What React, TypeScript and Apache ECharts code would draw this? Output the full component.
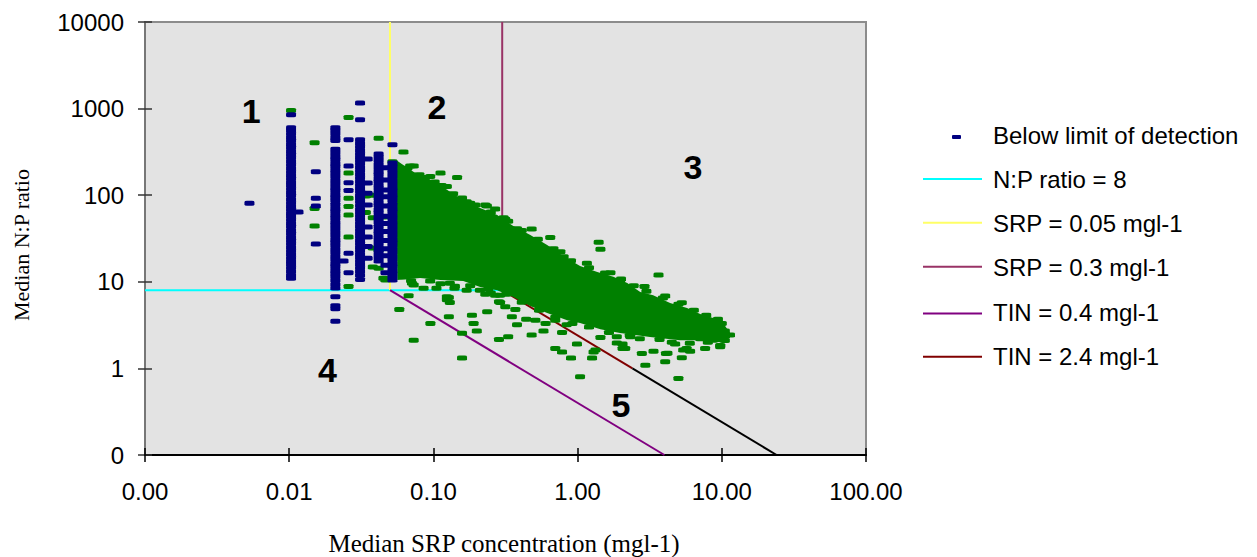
import React, { useEffect, useRef } from 'react';
import * as echarts from 'echarts';

// ---------- DATA ----------
// Axis tick values (log scales)
const xTickValues = [0.001, 0.01, 0.1, 1, 10, 100];
const yTickValues = [0.1, 1, 10, 100, 1000, 10000];

// Below-limit-of-detection samples: SRP columns and their N:P ratios
const bdlColumnSRP = [0.0103, 0.0209, 0.031, 0.0417, 0.0465, 0.052];
const bdlCol1 = [847, 600, 562, 513, 468, 427, 390, 355, 324, 296, 270, 246, 225, 205, 187, 171, 156, 142, 130, 119, 108, 99, 90, 82, 75, 68.5, 62.5, 57, 52, 47.5, 43.5, 39.5, 36, 33, 30, 27.5, 25, 22.9, 20.9, 19, 17.4, 15.9, 14.5, 13.2, 12, 11];
const bdlCol2 = [600, 562, 513, 468, 427, 340, 310, 283, 258, 236, 215, 196, 179, 163, 149, 136, 124, 113, 103, 94, 86, 78, 71, 65, 59, 54, 49, 45, 41, 37.5, 34, 31, 28.5, 26, 23.7, 21.6, 19.7, 18, 16.4, 15, 13.7, 12.5, 11.4, 10.4, 9.4, 8.5, 6.7, 5.3, 4.9, 3.5];
const bdlCol3 = [1158, 742, 436, 398, 363, 331, 302, 276, 252, 230, 210, 191, 174, 159, 145, 132, 121, 110, 100, 92, 84, 76, 69, 63, 58, 53, 48, 44, 40, 36.5, 33.3, 30.4, 27.7, 25.3, 23, 21, 19.2, 17.5, 16, 14.5, 13.2, 12, 10.6];
const bdlCol4 = [300, 274, 250, 228, 208, 190, 173, 158, 144, 131, 120, 109, 100, 91, 83, 76, 69, 63, 57.5, 52.5, 48, 43.5, 39.7, 36.2, 33, 30.1, 27.5, 25, 22.9, 20.9, 19, 17.4];
const bdlCol5 = [207, 150, 115, 96, 75, 57, 47, 38, 30, 24, 20, 15.5, 12.7];
const bdlCol6 = [382, 236, 215, 196, 179, 163, 149, 136, 124, 113, 103, 94, 86, 78, 71, 65, 59, 54, 49, 45, 41, 37.5, 34, 31, 28.5, 26, 23.7, 21.6, 19.7, 18, 16.4, 15, 13.7, 12.5, 11.4, 10.5];
const bdlColumns = [bdlCol1, bdlCol2, bdlCol3, bdlCol4, bdlCol5, bdlCol6];
const bdlExtraPoints = [
  [0.0053, 81], [0.0116, 64],
  [0.0153, 187], [0.0153, 92], [0.0153, 75], [0.0153, 27.4],
  [0.0238, 17.4], [0.0258, 436], [0.0258, 218], [0.0258, 139], [0.0258, 113], [0.0258, 21.3], [0.0258, 12.7],
  [0.035, 262], [0.035, 138], [0.035, 105], [0.035, 77], [0.035, 43], [0.035, 33], [0.035, 25.5], [0.035, 18.7],
];

// Above-detection samples: dense core envelope (SRP, N:P) ...
const cloudUpper = [[0.0553, 255], [0.059, 236], [0.0726, 186], [0.0953, 150], [0.125, 115], [0.161, 86], [0.211, 71], [0.277, 59], [0.358, 44], [0.47, 34.8], [0.615, 26.6], [0.794, 19.9], [1.04, 15.2], [1.37, 13.0], [1.77, 11.4], [2.21, 9.7], [2.72, 7.6], [3.34, 7.0], [4.38, 5.7], [5.74, 4.98], [7.08, 4.25], [8.71, 3.82], [10.2, 3.34], [11.4, 2.56]];
const cloudLower = [[11.4, 2.24], [9.75, 2.01], [7.08, 2.12], [5.14, 2.12], [3.18, 2.3], [1.97, 2.56], [1.44, 2.84], [1.04, 3.34], [0.847, 3.6], [0.615, 4.35], [0.47, 5.25], [0.358, 6.67], [0.277, 8.0], [0.211, 8.7], [0.161, 10.2], [0.112, 10.5], [0.081, 11.1], [0.0562, 10.5]];
// ... and the individual samples around it
const greenPoints = [
  [0.0103, 950], [0.015, 403], [0.015, 70], [0.015, 44],
  [0.0258, 789], [0.0258, 180], [0.0258, 92], [0.0258, 74], [0.0258, 59], [0.0258, 33], [0.0258, 8.8],
  [0.034, 98], [0.034, 63], [0.038, 100], [0.038, 55], [0.038, 24.5], [0.038, 14.8],
  [0.0417, 456], [0.0417, 23.3], [0.0417, 14.3], [0.045, 56], [0.045, 11], [0.0465, 10.5], [0.052, 244],
  [0.062, 315], [0.069, 217], [0.073, 218], [0.095, 164], [0.112, 181], [0.114, 129], [0.124, 126], [0.134, 100], [0.146, 160], [0.158, 93], [0.18, 81], [0.229, 77], [0.235, 75], [0.268, 69.5], [0.307, 55], [0.315, 52.8], [0.38, 41], [0.48, 40.7], [0.515, 30.4], [0.646, 32.4], [0.76, 22.3], [0.8, 19.5], [0.84, 15.6], [1.16, 16.4], [1.4, 28.6], [1.44, 23.8], [1.69, 12.7], [1.97, 10.0], [2.91, 8.8], [3.64, 12.0], [4.05, 6.85], [5.28, 5.73], [10.0, 3.31], [10.5, 2.7], [11.4, 2.43],
  [0.066, 205], [0.08, 172], [0.088, 160], [0.102, 142], [0.118, 125], [0.137, 104], [0.17, 84], [0.195, 77], [0.25, 64], [0.33, 50], [0.41, 39], [0.53, 31], [0.68, 24], [0.9, 17.5], [1.2, 14.5], [1.55, 12.6], [2.0, 10.8], [2.45, 9.0], [3.0, 7.8], [3.9, 6.5], [5.0, 5.5], [6.4, 4.7], [7.8, 4.1], [9.4, 3.7],
  [0.07, 10.3], [0.095, 10.2], [0.13, 9.6], [0.18, 9.0], [0.24, 8.2], [0.32, 7.2], [0.41, 5.8], [0.54, 4.7], [0.7, 3.9], [0.92, 3.3], [1.2, 3.0], [1.65, 2.6], [2.3, 2.4], [2.7, 2.2], [3.7, 2.15], [4.5, 2.0], [6.0, 1.95], [8.0, 2.0], [10.5, 2.1],
  [0.058, 4.8], [0.062, 15.6], [0.062, 12], [0.063, 11.4], [0.0673, 6.9], [0.071, 9.6], [0.073, 9.2], [0.073, 2.12], [0.0855, 8.4], [0.0953, 3.31], [0.105, 8.4], [0.112, 9.5], [0.124, 6.2], [0.124, 6.7], [0.128, 6.6], [0.13, 5.75], [0.128, 3.95], [0.14, 8.4], [0.141, 8.9], [0.158, 1.32], [0.158, 2.54], [0.17, 8.0], [0.185, 4.1], [0.19, 3.31], [0.2, 2.7], [0.21, 8.0], [0.229, 7.2], [0.236, 4.5], [0.25, 7.4], [0.268, 7.0], [0.285, 5.9], [0.285, 2.15], [0.29, 5.75], [0.29, 7.0], [0.315, 5.15], [0.33, 2.32], [0.35, 3.95], [0.37, 4.8], [0.38, 3.2], [0.44, 3.7], [0.48, 2.43], [0.51, 3.6], [0.58, 2.7], [0.6, 3.3], [0.7, 3.6], [0.7, 1.7], [0.78, 2.6], [0.78, 1.55], [0.84, 3.2], [0.9, 1.32], [0.99, 1.91], [1.04, 0.8], [1.26, 1.32], [1.29, 1.55], [1.33, 1.63], [1.44, 2.28], [1.87, 2.32], [1.87, 1.96], [2.05, 1.91], [2.05, 1.7], [2.14, 1.7], [2.32, 2.32], [2.79, 1.49], [2.95, 1.09], [3.36, 1.58], [4.05, 1.19], [4.1, 1.49], [4.2, 1.5], [4.75, 1.91], [5.0, 0.766], [5.28, 1.33], [5.4, 1.63], [5.7, 1.7], [6.03, 1.58], [7.08, 2.2], [7.66, 1.7], [8.7, 2.12], [9.75, 1.84], [9.75, 1.78],
];

// Threshold lines (SRP, N:P)
const npRatioLine = [[0.001, 8], [0.3, 8]];
const srp005Line = [[0.05, 8], [0.05, 10000]];
const srp03Line = [[0.3, 8], [0.3, 10000]];
const tin04Line = [[0.05, 8], [4, 0.1]];
const tin24Line = [[0.3, 8], [2.4, 1]];
const tin24Extension = [[2.4, 1], [24, 0.1]];

// Texts
const seriesNames = ['Below limit of detection', 'N:P ratio = 8', 'SRP = 0.05 mgl-1', 'SRP = 0.3 mgl-1', 'TIN = 0.4 mgl-1', 'TIN = 2.4 mgl-1'];
const regionNames = ['1', '2', '3', '4', '5'];
const xAxisTitle = 'Median SRP concentration (mgl-1)';
const yAxisTitle = 'Median N:P ratio';

// ---------- STYLE ----------
const SANS = '"Liberation Sans", Arial, sans-serif';
const SERIF = '"Liberation Serif", "Times New Roman", serif';
const BLUE = '#000080';
const GREEN = '#008000';
const lineColors = ['#00ffff', '#ffff66', '#993366', '#800080', '#800000'];

function buildOption() {
  const bluePoints: number[][] = [];
  bdlColumnSRP.forEach((x, i) => bdlColumns[i].forEach((y) => bluePoints.push([x, y])));
  bdlExtraPoints.forEach((p) => bluePoints.push(p));

  const regionAnchors = [[0.00545, 930], [0.1057, 1049], [6.32, 212], [0.0184, 0.968], [2.0, 0.382]];

  const xLabel = (v: number) => v.toFixed(2);
  const yLabel = (v: number) => (v < 1 ? '0' : String(Math.round(v)));

  const baseX = { type: 'log', logBase: 10, min: xTickValues[0], max: xTickValues[xTickValues.length - 1], splitLine: { show: false }, minorTick: { show: false } };
  const baseY = { type: 'log', logBase: 10, min: yTickValues[0], max: yTickValues[yTickValues.length - 1], splitLine: { show: false }, minorTick: { show: false } };

  const lineSeries = (name: string, data: number[][], color: string) => ({
    name, type: 'line', data, symbol: 'none', showSymbol: false, silent: true, z: 1,
    lineStyle: { color, width: 2 }, clip: true,
  });

  const legendRows = [
    { y: 179, ty: 179 },
    { y: 222.7, ty: 223.5 },
    { y: 266.7, ty: 267.5 },
    { y: 313.5, ty: 312.5 },
    { y: 356.7, ty: 356 },
  ];

  const graphics: any[] = [
    { type: 'rect', shape: { x: 952, y: 135, width: 9, height: 4, r: 1 }, style: { fill: BLUE } },
    { type: 'text', x: 993, y: 135, style: { text: seriesNames[0], fontSize: 24, fontFamily: SANS, fill: '#000', align: 'left', verticalAlign: 'middle' } },
  ];
  legendRows.forEach((r, i) => {
    graphics.push({ type: 'line', shape: { x1: 923, y1: r.y, x2: 982, y2: r.y }, style: { stroke: lineColors[i], lineWidth: 2 } });
    graphics.push({ type: 'text', x: 993, y: r.ty, style: { text: seriesNames[i + 1], fontSize: 24, fontFamily: SANS, fill: '#000', align: 'left', verticalAlign: 'middle' } });
  });
  graphics.push({ type: 'text', x: 21, y: 245, rotation: Math.PI / 2, style: { text: yAxisTitle, fontSize: 22, fontFamily: SERIF, fill: '#000', align: 'center', verticalAlign: 'middle' } });
  graphics.push({ type: 'text', x: 504, y: 543, style: { text: xAxisTitle, fontSize: 25, fontFamily: SERIF, fill: '#000', align: 'center', verticalAlign: 'middle' } });

  return {
    animation: false,
    backgroundColor: '#ffffff',
    grid: { left: 145, top: 22, width: 721, height: 433, show: true, backgroundColor: '#e3e3e3', borderColor: '#8c8c8c', borderWidth: 2 },
    xAxis: [
      {
        ...baseX, position: 'bottom',
        axisLine: { show: true, onZero: false, lineStyle: { color: '#000', width: 2 } },
        axisTick: { show: true, inside: false, length: 7, lineStyle: { color: '#000', width: 1.5 } },
        axisLabel: { show: true, margin: 24, fontSize: 24, fontFamily: SANS, color: '#000', formatter: xLabel, showMinLabel: true, showMaxLabel: true },
      },
      {
        ...baseX, position: 'bottom',
        axisLine: { show: false },
        axisTick: { show: true, inside: true, length: 7, lineStyle: { color: '#000', width: 1.5 } },
        axisLabel: { show: false },
      },
    ],
    yAxis: [
      {
        ...baseY, position: 'left',
        axisLine: { show: true, onZero: false, lineStyle: { color: '#777', width: 2 } },
        axisTick: { show: true, inside: false, length: 7, lineStyle: { color: '#333', width: 1.5 } },
        axisLabel: { show: true, margin: 21, fontSize: 24, fontFamily: SANS, color: '#000', formatter: yLabel, showMinLabel: true, showMaxLabel: true },
      },
      {
        ...baseY, position: 'left',
        axisLine: { show: false },
        axisTick: { show: true, inside: true, length: 7, lineStyle: { color: '#333', width: 1.5 } },
        axisLabel: { show: false },
      },
    ],
    series: [
      lineSeries(seriesNames[1], npRatioLine, lineColors[0]),
      lineSeries(seriesNames[2], srp005Line, lineColors[1]),
      lineSeries(seriesNames[3], srp03Line, lineColors[2]),
      lineSeries(seriesNames[4], tin04Line, lineColors[3]),
      lineSeries(seriesNames[5], tin24Line, lineColors[4]),
      lineSeries('TIN = 2.4 mgl-1 (extension)', tin24Extension, '#000000'),
      {
        name: 'Above detection (core)', type: 'custom', silent: true, z: 3,
        data: [[0.3, 20]],
        renderItem: (_params: any, api: any) => ({
          type: 'polygon',
          z2: 0,
          shape: { points: cloudUpper.concat(cloudLower).map((p) => api.coord(p)) },
          style: { fill: GREEN },
        }),
      },
      {
        name: 'Above detection', type: 'scatter', data: greenPoints, symbol: 'roundRect', symbolSize: [10, 5], z: 3,
        itemStyle: { color: GREEN, opacity: 1 }, silent: true,
      },
      {
        name: seriesNames[0], type: 'scatter', data: bluePoints, symbol: 'roundRect', symbolSize: [10, 5], z: 4,
        itemStyle: { color: BLUE, opacity: 1 }, silent: true,
      },
      {
        name: 'Regions', type: 'scatter', silent: true, symbol: 'circle', symbolSize: 1, z: 5,
        itemStyle: { color: 'rgba(0,0,0,0)', opacity: 1 },
        data: regionNames.map((n, i) => ({ name: n, value: regionAnchors[i] })),
        label: { show: true, position: 'inside', formatter: '{b}', fontSize: 34, fontWeight: 'bold', fontFamily: SANS, color: '#000' },
      },
    ],
    graphic: graphics,
  };
}

export default function App() {
  const ref = useRef<HTMLDivElement>(null);
  useEffect(() => {
    if (!ref.current) return;
    const chart = echarts.init(ref.current, null, { renderer: 'svg' });
    chart.setOption(buildOption() as any);
    return () => chart.dispose();
  }, []);
  return <div ref={ref} style={{ position: 'fixed', left: 0, top: 0, width: 1257, height: 557, background: '#fff' }} />;
}
